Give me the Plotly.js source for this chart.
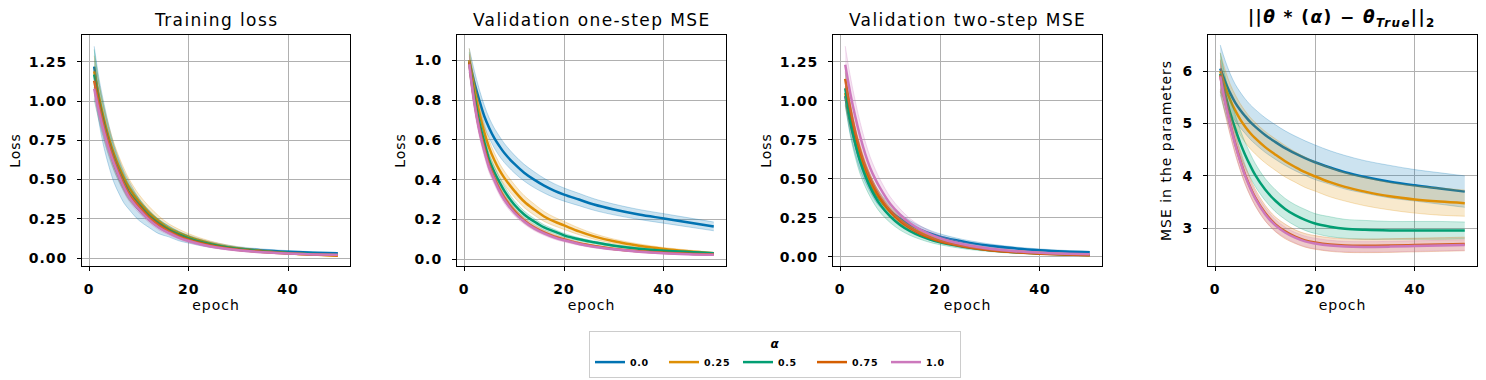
<!DOCTYPE html>
<html>
<head>
<meta charset="utf-8">
<script src="https://cdn.plot.ly/plotly-3.0.1.min.js"></script>
<style>
  body { margin: 0; background: #fff; }
  #chart { width: 1486px; height: 380px; }
  /* the reference glyphs are drawn wider than DejaVu at the same height */
  #chart text { letter-spacing: 1px; }
  #chart .annotation-text { letter-spacing: 1.4px; }
  #chart .legendtext { letter-spacing: 0.7px; }
</style>
</head>
<body>
<div id="chart"></div>
<script>
var epochs = [1, 2, 3, 4, 5, 6, 7, 8, 10, 12, 14, 16, 18, 20, 23, 26, 30, 35, 40, 45, 50];
var alphas = ['0.0', '0.25', '0.5', '0.75', '1.0'];
var colors = ['#0173b2', '#de8f05', '#029e73', '#d55e00', '#cc78bc'];

// Training loss: mean per alpha, and half-width of the shaded band
var trainMean = [
  [1.22, 1.00, 0.84, 0.71, 0.60, 0.52, 0.45, 0.40, 0.31, 0.25, 0.20, 0.17, 0.14, 0.12, 0.095, 0.077, 0.060, 0.048, 0.040, 0.034, 0.030],
  [1.19, 1.02, 0.88, 0.76, 0.66, 0.58, 0.51, 0.45, 0.36, 0.29, 0.235, 0.19, 0.16, 0.135, 0.105, 0.082, 0.060, 0.043, 0.031, 0.022, 0.015],
  [1.17, 0.99, 0.85, 0.73, 0.63, 0.55, 0.48, 0.42, 0.34, 0.27, 0.22, 0.18, 0.15, 0.125, 0.097, 0.077, 0.057, 0.042, 0.032, 0.025, 0.020],
  [1.13, 0.97, 0.83, 0.72, 0.62, 0.54, 0.47, 0.41, 0.33, 0.26, 0.21, 0.17, 0.14, 0.115, 0.090, 0.070, 0.052, 0.038, 0.029, 0.023, 0.018],
  [1.08, 0.93, 0.80, 0.69, 0.60, 0.52, 0.45, 0.39, 0.31, 0.245, 0.195, 0.16, 0.13, 0.108, 0.083, 0.065, 0.049, 0.036, 0.028, 0.023, 0.020]
];
var trainSpread = [
  [0.13, 0.14, 0.14, 0.13, 0.12, 0.11, 0.10, 0.09, 0.07, 0.055, 0.045, 0.035, 0.03, 0.025, 0.02, 0.016, 0.012, 0.009, 0.007, 0.006, 0.005],
  [0.10, 0.09, 0.08, 0.075, 0.07, 0.065, 0.06, 0.055, 0.045, 0.04, 0.033, 0.028, 0.024, 0.02, 0.016, 0.013, 0.01, 0.008, 0.006, 0.005, 0.004],
  [0.16, 0.12, 0.10, 0.085, 0.075, 0.065, 0.058, 0.05, 0.04, 0.033, 0.027, 0.022, 0.019, 0.016, 0.013, 0.011, 0.009, 0.007, 0.006, 0.005, 0.004],
  [0.08, 0.07, 0.06, 0.055, 0.05, 0.045, 0.04, 0.036, 0.03, 0.025, 0.02, 0.017, 0.014, 0.012, 0.01, 0.008, 0.007, 0.006, 0.005, 0.004, 0.004],
  [0.06, 0.055, 0.05, 0.045, 0.04, 0.036, 0.032, 0.028, 0.023, 0.019, 0.016, 0.013, 0.011, 0.01, 0.008, 0.007, 0.006, 0.005, 0.004, 0.004, 0.003]
];

// Validation one-step MSE
var oneStepMean = [
  [1.00, 0.89, 0.80, 0.72, 0.66, 0.61, 0.57, 0.535, 0.48, 0.435, 0.40, 0.37, 0.345, 0.325, 0.30, 0.275, 0.25, 0.225, 0.205, 0.185, 0.165],
  [1.00, 0.86, 0.74, 0.64, 0.56, 0.50, 0.45, 0.41, 0.345, 0.29, 0.25, 0.215, 0.19, 0.17, 0.14, 0.115, 0.09, 0.068, 0.052, 0.040, 0.030],
  [0.99, 0.82, 0.69, 0.59, 0.50, 0.44, 0.39, 0.345, 0.275, 0.225, 0.19, 0.16, 0.14, 0.12, 0.10, 0.085, 0.068, 0.053, 0.043, 0.036, 0.030],
  [0.99, 0.80, 0.66, 0.56, 0.47, 0.41, 0.355, 0.31, 0.245, 0.195, 0.16, 0.135, 0.115, 0.10, 0.08, 0.066, 0.052, 0.040, 0.032, 0.027, 0.024],
  [0.98, 0.79, 0.65, 0.545, 0.46, 0.40, 0.345, 0.30, 0.235, 0.19, 0.155, 0.13, 0.11, 0.095, 0.077, 0.063, 0.050, 0.038, 0.030, 0.025, 0.022]
];
var oneStepSpread = [
  [0.06, 0.06, 0.055, 0.055, 0.05, 0.05, 0.05, 0.048, 0.045, 0.042, 0.04, 0.037, 0.035, 0.033, 0.031, 0.029, 0.027, 0.025, 0.024, 0.023, 0.022],
  [0.06, 0.05, 0.045, 0.04, 0.038, 0.036, 0.035, 0.034, 0.032, 0.03, 0.028, 0.025, 0.022, 0.02, 0.017, 0.014, 0.011, 0.009, 0.007, 0.006, 0.005],
  [0.05, 0.04, 0.035, 0.032, 0.03, 0.028, 0.026, 0.024, 0.02, 0.017, 0.015, 0.013, 0.011, 0.01, 0.008, 0.007, 0.006, 0.005, 0.004, 0.004, 0.003],
  [0.04, 0.035, 0.03, 0.027, 0.025, 0.022, 0.02, 0.018, 0.015, 0.013, 0.011, 0.01, 0.009, 0.008, 0.007, 0.006, 0.005, 0.004, 0.004, 0.003, 0.003],
  [0.04, 0.035, 0.03, 0.027, 0.025, 0.022, 0.02, 0.018, 0.015, 0.013, 0.011, 0.01, 0.009, 0.008, 0.007, 0.006, 0.005, 0.004, 0.004, 0.003, 0.003]
];

// Validation two-step MSE
var twoStepMean = [
  [1.03, 0.86, 0.73, 0.62, 0.54, 0.47, 0.41, 0.365, 0.295, 0.245, 0.205, 0.175, 0.15, 0.13, 0.108, 0.09, 0.072, 0.055, 0.043, 0.035, 0.030],
  [1.05, 0.89, 0.76, 0.65, 0.56, 0.485, 0.42, 0.37, 0.29, 0.235, 0.19, 0.158, 0.132, 0.11, 0.087, 0.068, 0.050, 0.035, 0.025, 0.018, 0.013],
  [1.08, 0.88, 0.73, 0.61, 0.52, 0.445, 0.385, 0.335, 0.26, 0.205, 0.165, 0.135, 0.112, 0.094, 0.074, 0.058, 0.043, 0.030, 0.022, 0.016, 0.012],
  [1.14, 0.95, 0.80, 0.68, 0.58, 0.50, 0.435, 0.38, 0.295, 0.23, 0.185, 0.15, 0.122, 0.10, 0.078, 0.060, 0.043, 0.030, 0.021, 0.015, 0.011],
  [1.23, 1.05, 0.90, 0.77, 0.66, 0.57, 0.50, 0.44, 0.34, 0.27, 0.215, 0.175, 0.145, 0.12, 0.092, 0.072, 0.053, 0.037, 0.027, 0.021, 0.017]
];
var twoStepSpread = [
  [0.06, 0.07, 0.07, 0.065, 0.06, 0.055, 0.05, 0.045, 0.038, 0.032, 0.027, 0.023, 0.02, 0.018, 0.015, 0.013, 0.011, 0.009, 0.008, 0.007, 0.006],
  [0.08, 0.07, 0.06, 0.055, 0.05, 0.045, 0.04, 0.036, 0.03, 0.025, 0.021, 0.018, 0.015, 0.013, 0.011, 0.009, 0.007, 0.006, 0.005, 0.004, 0.003],
  [0.10, 0.10, 0.09, 0.08, 0.07, 0.06, 0.055, 0.05, 0.04, 0.033, 0.027, 0.022, 0.019, 0.016, 0.013, 0.011, 0.009, 0.007, 0.006, 0.005, 0.004],
  [0.05, 0.045, 0.04, 0.036, 0.032, 0.028, 0.025, 0.022, 0.018, 0.015, 0.012, 0.01, 0.009, 0.008, 0.007, 0.006, 0.005, 0.004, 0.003, 0.003, 0.002],
  [0.12, 0.11, 0.10, 0.09, 0.08, 0.07, 0.062, 0.055, 0.045, 0.037, 0.03, 0.025, 0.021, 0.018, 0.015, 0.012, 0.01, 0.008, 0.006, 0.005, 0.004]
];

// Parameter error ||theta*(alpha) - theta_true||_2
var paramMean = [
  [6.05, 5.80, 5.58, 5.40, 5.26, 5.14, 5.03, 4.94, 4.78, 4.65, 4.53, 4.43, 4.34, 4.26, 4.16, 4.07, 3.98, 3.89, 3.82, 3.76, 3.70],
  [6.00, 5.70, 5.45, 5.25, 5.08, 4.94, 4.82, 4.72, 4.55, 4.41, 4.28, 4.17, 4.07, 3.99, 3.88, 3.79, 3.70, 3.61, 3.55, 3.51, 3.48],
  [5.95, 5.55, 5.20, 4.90, 4.63, 4.40, 4.20, 4.02, 3.74, 3.53, 3.37, 3.25, 3.16, 3.09, 3.03, 2.99, 2.97, 2.96, 2.96, 2.96, 2.96],
  [5.92, 5.42, 5.00, 4.62, 4.30, 4.02, 3.79, 3.59, 3.29, 3.08, 2.94, 2.84, 2.77, 2.73, 2.69, 2.67, 2.665, 2.67, 2.68, 2.69, 2.70],
  [5.90, 5.40, 4.98, 4.60, 4.28, 4.00, 3.77, 3.57, 3.27, 3.06, 2.92, 2.82, 2.75, 2.71, 2.67, 2.65, 2.645, 2.65, 2.66, 2.67, 2.68]
];
var paramSpread = [
  [0.45, 0.40, 0.37, 0.35, 0.34, 0.33, 0.33, 0.33, 0.33, 0.33, 0.33, 0.33, 0.33, 0.33, 0.32, 0.32, 0.31, 0.31, 0.30, 0.30, 0.30],
  [0.35, 0.32, 0.30, 0.30, 0.30, 0.30, 0.30, 0.30, 0.30, 0.30, 0.30, 0.29, 0.29, 0.28, 0.28, 0.27, 0.27, 0.26, 0.26, 0.26, 0.25],
  [0.40, 0.35, 0.30, 0.27, 0.25, 0.24, 0.23, 0.22, 0.21, 0.21, 0.20, 0.20, 0.20, 0.19, 0.19, 0.18, 0.18, 0.17, 0.17, 0.17, 0.16],
  [0.30, 0.25, 0.22, 0.20, 0.19, 0.18, 0.17, 0.16, 0.15, 0.14, 0.14, 0.13, 0.13, 0.13, 0.13, 0.13, 0.13, 0.13, 0.13, 0.13, 0.13],
  [0.25, 0.20, 0.18, 0.17, 0.16, 0.15, 0.14, 0.13, 0.12, 0.11, 0.10, 0.10, 0.10, 0.10, 0.10, 0.10, 0.10, 0.10, 0.10, 0.10, 0.10]
];

var panels = [
  {mean: trainMean, spread: trainSpread, title: 'Training loss', ytitle: 'Loss'},
  {mean: oneStepMean, spread: oneStepSpread, title: 'Validation one-step MSE', ytitle: 'Loss'},
  {mean: twoStepMean, spread: twoStepSpread, title: 'Validation two-step MSE', ytitle: 'Loss'},
  {mean: paramMean, spread: paramSpread,
   title: '<b>||<i>θ</i> * (<i>α</i>) − <i>θ</i><sub><i>True</i></sub>||<sub>2</sub></b>',
   ytitle: 'MSE in the parameters'}
];

function rgba(hex, a) {
  var n = parseInt(hex.slice(1), 16);
  return 'rgba(' + (n >> 16) + ',' + ((n >> 8) & 255) + ',' + (n & 255) + ',' + a + ')';
}

var data = [];
panels.forEach(function (p, k) {
  var xa = 'x' + (k ? k + 1 : ''), ya = 'y' + (k ? k + 1 : '');
  p.mean.forEach(function (m, i) {
    var lo = m.map((v, j) => v - p.spread[i][j]);
    var hi = m.map((v, j) => v + p.spread[i][j]);
    data.push({x: epochs, y: lo, xaxis: xa, yaxis: ya, mode: 'lines', showlegend: false, hoverinfo: 'skip',
      line: {color: rgba(colors[i], 0.25), width: 1, shape: 'spline'}});
    data.push({x: epochs, y: hi, xaxis: xa, yaxis: ya, mode: 'lines', showlegend: false, hoverinfo: 'skip',
      fill: 'tonexty', fillcolor: rgba(colors[i], 0.2),
      line: {color: rgba(colors[i], 0.25), width: 1, shape: 'spline'}});
    data.push({x: epochs, y: m, xaxis: xa, yaxis: ya, mode: 'lines', name: alphas[i],
      showlegend: k === 0, line: {color: colors[i], width: 2.5, shape: 'spline'}});
  });
});

var W = 1486, H = 380;
var xpix = [[82, 350], [457, 726], [833, 1102], [1208, 1477]];
var yranges = [[-0.051, 1.422], [-0.034, 1.127], [-0.058, 1.421], [2.28, 6.69]];
var ydticks = [0.25, 0.2, 0.25, 1];
var yformats = ['.2f', '.1f', '.2f', 'd'];
var ydom = [1 - 266 / H, 1 - 35 / H];

var layout = {
  width: W, height: H,
  margin: {l: 0, r: 0, t: 0, b: 0},
  paper_bgcolor: '#fff', plot_bgcolor: '#fff',
  font: {family: 'DejaVu Sans', size: 14, color: '#000'},
  showlegend: true,
  legend: {
    orientation: 'h', traceorder: 'normal', x: 775 / W, xanchor: 'center', y: 1 - 331 / H, yanchor: 'top',
    bordercolor: '#cccccc', borderwidth: 1, entrywidth: 29,
    font: {family: 'DejaVu Sans', size: 9.5, weight: 'bold', color: '#000'},
    title: {text: '<b><i>α</i></b>', side: 'top center', font: {family: 'DejaVu Sans', size: 12}}
  },
  annotations: []
};

panels.forEach(function (p, k) {
  var s = k ? k + 1 : '';
  var dom = [xpix[k][0] / W, xpix[k][1] / W];
  layout['xaxis' + s] = {
    domain: dom, anchor: 'y' + s, range: [-1.45, 52.45], tickvals: [0, 20, 40],
    showline: true, mirror: true, linecolor: '#000', linewidth: 1,
    ticks: 'outside', ticklen: 4, tickcolor: '#000', ticklabelstandoff: 6,
    showgrid: true, gridcolor: '#b0b0b0', gridwidth: 1, zeroline: false,
    tickfont: {family: 'DejaVu Sans', size: 14, weight: 'bold', color: '#000'},
    title: {text: 'epoch', font: {family: 'DejaVu Sans', size: 14}, standoff: 4}
  };
  layout['yaxis' + s] = {
    domain: ydom, anchor: 'x' + s, range: yranges[k], dtick: ydticks[k], tickformat: yformats[k],
    showline: true, mirror: true, linecolor: '#000', linewidth: 1,
    ticks: 'outside', ticklen: 4, tickcolor: '#000', ticklabelstandoff: 7,
    showgrid: true, gridcolor: '#b0b0b0', gridwidth: 1, zeroline: false,
    tickfont: {family: 'DejaVu Sans', size: 14, weight: 'bold', color: '#000'},
    title: {text: p.ytitle, font: {family: 'DejaVu Sans', size: 14}, standoff: 8}
  };
  layout.annotations.push({
    text: p.title, xref: 'paper', yref: 'paper', x: (dom[0] + dom[1]) / 2, y: ydom[1],
    xanchor: 'center', yanchor: 'bottom', yshift: 3, showarrow: false,
    font: {family: 'DejaVu Sans', size: 17, color: '#000'}
  });
});

Plotly.newPlot('chart', data, layout, {displayModeBar: false});
</script>
</body>
</html>
